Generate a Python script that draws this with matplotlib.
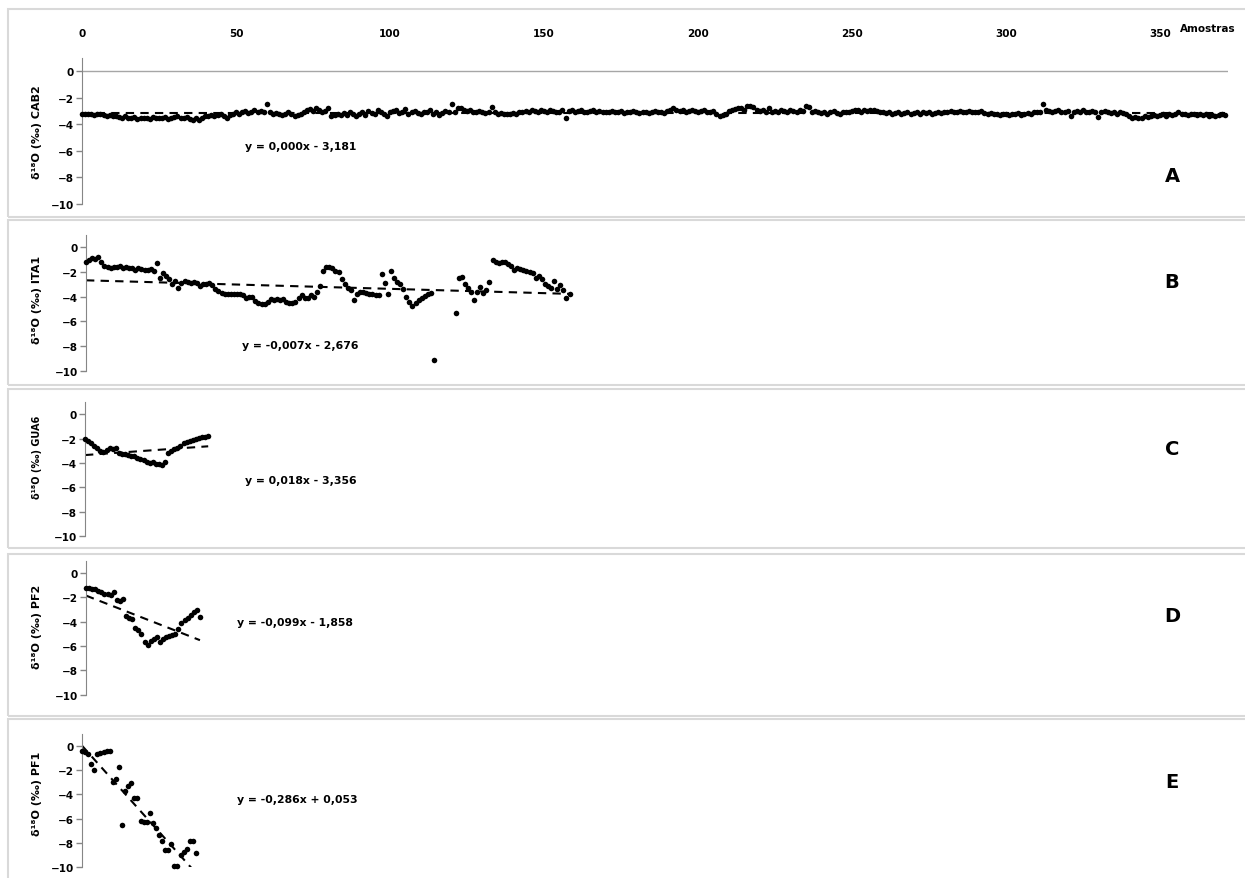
import numpy as np
import matplotlib.pyplot as plt
from matplotlib.patches import Rectangle

plt.rcParams["font.family"] = "DejaVu Sans"
plt.rcParams["font.weight"] = "bold"

W, H = 1245, 879

# d18O values (permil), one value per sample
cab2 = [
    -3.25, -3.2, -3.25, -3.2, -3.3, -3.25, -3.2, -3.3, -3.35, -3.3,
    -3.4, -3.35, -3.45, -3.5, -3.4, -3.55, -3.5, -3.45, -3.6, -3.5,
    -3.55, -3.5, -3.6, -3.45, -3.5, -3.55, -3.5, -3.45, -3.6, -3.5,
    -3.45, -3.4, -3.5, -3.55, -3.45, -3.6, -3.7, -3.55, -3.65, -3.5,
    -3.4, -3.35, -3.3, -3.4, -3.3, -3.25, -3.35, -3.55, -3.3, -3.2,
    -3.1, -3.2, -3.05, -3.0, -3.15, -3.05, -2.95, -3.1, -3.0, -3.05,
    -2.5, -3.1, -3.2, -3.15, -3.25, -3.3, -3.2, -3.1, -3.2, -3.35,
    -3.3, -3.25, -3.1, -2.95, -2.85, -3.0, -2.8, -2.9, -3.05, -3.0,
    -2.75, -3.4, -3.3, -3.2, -3.3, -3.15, -3.3, -3.05, -3.2, -3.35,
    -3.2, -3.1, -3.3, -3.0, -3.15, -3.25, -2.95, -3.1, -3.2, -3.35,
    -3.1, -3.0, -2.9, -3.15, -3.05, -2.85, -3.2, -3.1, -3.0, -3.15,
    -3.2, -3.05, -3.1, -2.95, -3.2, -3.1, -3.3, -3.15, -3.0, -3.1,
    -2.5, -3.1, -2.75, -2.8, -2.9, -3.0, -2.9, -3.1, -3.05, -3.0,
    -3.1, -3.15, -3.05, -2.7, -3.1, -3.2, -3.15, -3.2, -3.25, -3.2,
    -3.15, -3.2, -3.1, -3.05, -3.0, -3.05, -2.95, -3.0, -3.1, -2.95,
    -3.0, -3.05, -2.95, -3.0, -3.1, -3.05, -2.9, -3.5, -3.0, -2.95,
    -3.05, -3.0, -2.95, -3.05, -3.1, -3.0, -2.95, -3.05, -3.0, -3.1,
    -3.05, -3.1, -3.0, -3.05, -3.1, -3.0, -3.15, -3.05, -3.1, -3.0,
    -3.1, -3.15, -3.1, -3.05, -3.15, -3.1, -3.0, -3.05, -3.1, -3.15,
    -3.0, -2.95, -2.75, -2.9, -3.0, -2.95, -3.05, -3.0, -2.9, -3.0,
    -3.05, -3.0, -2.95, -3.05, -3.1, -3.0, -3.25, -3.35, -3.3, -3.2,
    -3.0, -2.9, -2.85, -2.75, -2.8, -2.9, -2.6, -2.65, -2.7, -2.9,
    -3.0, -2.95, -3.1, -2.75, -3.05, -3.0, -3.1, -2.95, -3.0, -3.05,
    -2.95, -3.0, -3.05, -2.95, -3.0, -2.6, -2.7, -3.05, -3.0, -3.1,
    -3.15, -3.05, -3.2, -3.1, -3.0, -3.15, -3.2, -3.1, -3.05, -3.1,
    -3.0, -2.9, -2.95, -3.05, -2.9, -3.0, -2.95, -2.9, -3.0, -3.05,
    -3.1, -3.15, -3.1, -3.2, -3.15, -3.1, -3.2, -3.15, -3.05, -3.2,
    -3.15, -3.1, -3.2, -3.1, -3.15, -3.05, -3.2, -3.15, -3.1, -3.15,
    -3.1, -3.05, -3.0, -3.05, -3.1, -3.0, -3.05, -3.1, -3.0, -3.05,
    -3.1, -3.05, -3.0, -3.15, -3.2, -3.15, -3.25, -3.2, -3.3, -3.2,
    -3.25, -3.3, -3.2, -3.25, -3.15, -3.3, -3.2, -3.15, -3.25, -3.1,
    -3.05, -3.1, -2.5, -2.9, -3.0, -3.05, -3.0, -2.95, -3.05, -3.1,
    -3.0, -3.35, -3.05, -3.0, -3.1, -2.95, -3.05, -3.1, -3.0, -3.05,
    -3.45, -3.1, -3.0, -3.05, -3.15, -3.1, -3.2, -3.1, -3.15, -3.25,
    -3.4, -3.5, -3.45, -3.55, -3.5, -3.4, -3.45, -3.35, -3.3, -3.4,
    -3.3, -3.2, -3.35, -3.25, -3.3, -3.2, -3.1, -3.2, -3.25, -3.3,
    -3.2, -3.25, -3.3, -3.2, -3.3, -3.25, -3.35, -3.3, -3.4, -3.3,
    -3.25, -3.3,
]

nan = float("nan")
ita1 = [
    -1.15, -1.0, -0.9, -0.95, -0.75, -1.2, -1.5, -1.6, -1.65, -1.6,
    -1.6, -1.55, -1.7, -1.6, -1.65, -1.7, -1.8, -1.7, -1.75, -1.85,
    -1.8, -1.75, -1.95, -1.3, -2.45, -2.05, -2.3, -2.55, -3.0, -2.75,
    -3.3, -2.9, -2.75, -2.85, -2.9, -2.8, -2.9, -3.1, -3.0, -2.95,
    -2.9, -3.05, -3.4, -3.55, -3.7, -3.75, -3.8, -3.8, -3.75, -3.8,
    -3.75, -3.9, -4.1, -4.0, -4.05, -4.35, -4.5, -4.6, -4.6, -4.45,
    -4.2, -4.3, -4.2, -4.25, -4.2, -4.4, -4.5, -4.55, -4.45, -4.1,
    -3.9, -4.1, -4.15, -3.9, -4.0, -3.65, -3.1, -1.9, -1.6, -1.6,
    -1.7, -1.9, -2.0, -2.55, -2.95, -3.3, -3.45, -4.25, -3.8, -3.6,
    -3.6, -3.7, -3.75, -3.8, -3.85, -3.85, -2.15, -2.9, -3.8, -1.9,
    -2.5, -2.8, -3.0, -3.4, -4.05, -4.4, -4.75, -4.5, -4.3, -4.15,
    -3.95, -3.75, -3.7, -9.15, nan, nan, nan, nan, nan, nan,
    -5.35, -2.5, -2.4, -3.0, -3.3, -3.6, -4.25, -3.65, -3.25, -3.7,
    -3.5, -2.85, -1.05, -1.2, -1.3, -1.15, -1.2, -1.35, -1.55, -1.8,
    -1.65, -1.75, -1.8, -1.9, -2.0, -2.1, -2.45, -2.3, -2.6, -2.95,
    -3.15, -3.3, -2.7, -3.4, -3.05, -3.45, -4.1, -3.8,
]

gua6 = [
    -2.05, -2.2, -2.4, -2.6, -2.8, -3.0, -3.1, -2.9, -2.8, -2.85,
    -2.8, -3.2, -3.3, -3.25, -3.35, -3.4, -3.45, -3.6, -3.7, -3.8,
    -3.95, -4.0, -3.95, -4.05, -4.1, -4.15, -3.9, -3.2, -3.0, -2.85,
    -2.75, -2.6, -2.4, -2.3, -2.2, -2.15, -2.05, -1.95, -1.9, -1.85,
    -1.8,
]

pf2 = [
    -1.2, -1.25, -1.3, -1.35, -1.5, -1.6, -1.75, -1.75, -1.8, -1.55,
    -2.2, -2.3, -2.1, -3.5, -3.7, -3.8, -4.5, -4.7, -5.0, -5.7,
    -5.9, -5.6, -5.45, -5.3, -5.65, -5.45, -5.3, -5.2, -5.1, -5.0,
    -4.6, -4.1, -3.9, -3.7, -3.45, -3.2, -3.05, -3.65,
]

pf1 = [
    -0.35, -0.5, -0.6, -1.5, -2.0, -0.65, -0.55, -0.5, -0.42, -0.35,
    -3.0, -2.7, -1.75, -6.5, -3.7, -3.3, -3.05, -4.3, -4.3, -6.2,
    -6.25, -6.25, -5.5, -6.4, -6.8, -7.4, -7.9, -8.6, -8.6, -8.1,
    -9.95, -9.95, -9.0, -8.8, -8.5, -7.9, -7.9, -8.9,
]

names = ["CAB2", "ITA1", "GUA6", "PF2", "PF1"]
series = [cab2, ita1, gua6, pf2, pf1]
slopes = [0.000, -0.007, 0.018, -0.099, -0.286]
intercepts = [-3.181, -2.676, -3.356, -1.858, 0.053]
equations = ["y = 0,000x - 3,181", "y = -0,007x - 2,676", "y = 0,018x - 3,356",
             "y = -0,099x - 1,858", "y = -0,286x + 0,053"]
letters = ["A", "B", "C", "D", "E"]
xticks = [0, 50, 100, 150, 200, 250, 300, 350]

# layout in pixels: axes (left, top, bottom), frame (top, bottom), text spots
axes_px = [(82, 58.7, 205), (86, 236, 371.6), (85, 403, 537), (86, 561.8, 695.7), (82, 735.3, 867.7)]
frames_px = [(10, 218), (221, 386), (390, 549), (555, 717), (720, 900)]
eq_px = [(245, 147), (242, 346), (245, 481), (237, 623), (237, 800)]
letter_y = [177, 283, 450, 616, 783]
label_y = [132, 300, 457, 627, 794]
label_size = [8, 8, 7, 8, 8]

XMAX = 372
PX_PER_UNIT = 3.08

fig = plt.figure(figsize=(W / 100, H / 100), dpi=100)

for i in range(5):
    top, bot = frames_px[i]
    fig.add_artist(Rectangle((7.5 / W, 1 - bot / H), 1.2, (bot - top) / H,
                             transform=fig.transFigure, fill=False,
                             ec="#d9d9d9", lw=1.5))

for i, (name, vals) in enumerate(zip(names, series)):
    left, top, bot = axes_px[i]
    ax = fig.add_axes([left / W, 1 - bot / H, XMAX * PX_PER_UNIT / W, (bot - top) / H])
    y = np.array(vals, dtype=float)
    x = np.arange(len(y))

    ax.plot(x, y, "o", color="black", ms=4.0, mew=0, clip_on=False, zorder=3)
    xt = np.array([x[0], x[-1]])
    ax.plot(xt, slopes[i] * xt + intercepts[i], color="black", lw=1.5,
            linestyle=(0, (4, 3)), zorder=2)

    ax.set_xlim(0, XMAX)
    ax.set_ylim(-10, 1)
    ax.set_yticks([0, -2, -4, -6, -8, -10])
    ax.tick_params(axis="y", direction="out", length=4, width=1, color="#868686",
                   labelsize=7.5, pad=2)
    for s in ["top", "right", "bottom"]:
        ax.spines[s].set_visible(False)
    ax.spines["left"].set_color("#868686")
    ax.patch.set_alpha(0)

    if i == 0:
        ax.axhline(0, color="#a6a6a6", lw=1, zorder=1)
        ax.xaxis.tick_top()
        ax.set_xticks(xticks)
        ax.tick_params(axis="x", length=0, labelsize=7.5, pad=14)
    else:
        ax.set_xticks([])

    fig.text(37 / W, 1 - label_y[i] / H, f"δ¹⁸O (‰) {name}", rotation=90,
             ha="center", va="center", fontsize=label_size[i], fontweight="bold")
    fig.text(eq_px[i][0] / W, 1 - eq_px[i][1] / H, equations[i], ha="left",
             va="center", fontsize=7.8, fontweight="bold")
    fig.text(1172 / W, 1 - letter_y[i] / H, letters[i], ha="center", va="center",
             fontsize=14, fontweight="bold")

fig.text(1208 / W, 1 - 29 / H, "Amostras", ha="center", va="center",
         fontsize=7.5, fontweight="bold")

fig.savefig("out.png", dpi=100)
